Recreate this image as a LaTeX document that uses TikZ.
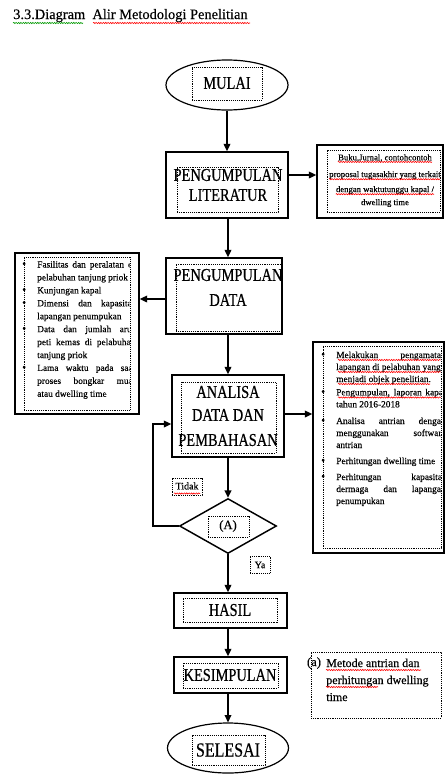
\documentclass[tikz,border=0pt]{standalone}
\usepackage{fontspec}
\setmainfont{Liberation Serif}
\newfontfamily\boxfont[FakeStretch=0.8,FakeBold=0.5]{Liberation Serif}
\newfontfamily\smfont[FakeBold=0.3]{Liberation Serif}
\usetikzlibrary{arrows.meta,shapes.geometric,decorations.pathmorphing,fit}
\newcommand\mybul{\makebox[11.25pt][l]{\raisebox{0.2pt}{\fontsize{8}{9}\selectfont•}}}
\newcommand\mynob{\hspace*{11.25pt}}
\begin{document}
\begin{tikzpicture}[x=0.75pt,y=-0.75pt,
 outer/.style={draw, line width=1.2pt, inner sep=0pt},
 dotbox/.style={draw, line width=0.7pt, dash pattern=on 0.7pt off 0.7pt, inner sep=0pt},
 arr/.style={line width=1.1pt, -{Triangle[length=5.5pt,width=5pt]}},
 big/.style={inner sep=0pt, font=\boxfont\fontsize{13.5}{16}\selectfont},
 wav/.style={decorate, decoration={snake, amplitude=0.45pt, segment length=1.8pt}, line width=0.45pt}]

\useasboundingbox (0,0) rectangle (445,775);

% title
\node[anchor=base west, inner sep=0pt, font=\smfont\fontsize{10.8}{12}\selectfont] (title) at (13,19) {3.3.Diagram\hspace{0.5em}Alir Metodologi Penelitian};
\draw[wav, green!60!black] (13,23) -- (83,23);
\draw[wav, red] (93,23) -- (250,23);

% MULAI
\node[ellipse, draw, line width=0.9pt, minimum width=91.5pt, minimum height=37.5pt, inner sep=0pt] (mulai) at (227,85) {};
\node[dotbox, fit={(192,67) (262,100)}] (mulaid) {};
\node[big] (mulait) at (227,83) {MULAI};

% literatur
\node[outer, fit={(166,152) (288,218)}] (lit) {};
\node[dotbox, fit={(177,167) (278,212)}] (litd) {};
\node[big] (litt1) at (228,175) {PENGUMPULAN};
\node[big] (litt2) at (228,195) {LITERATUR};

\node[outer, fit={(317,145) (443,218)}] (litnote) {};
\node[dotbox, fit={(327,150) (440,212)}] (litnoted) {};
\begin{scope}
\clip (318,146) rectangle (440,217);
\node[inner sep=0pt, font=\smfont\fontsize{6.5}{8}\selectfont] (ln1) at (385,158) {Buku,Jurnal, contohcontoh};
\node[inner sep=0pt, font=\smfont\fontsize{6.5}{8}\selectfont] (ln2) at (385,175) {proposal tugasakhir yang terkait};
\node[inner sep=0pt, font=\smfont\fontsize{6.5}{8}\selectfont] (ln3) at (385,190) {dengan waktutunggu kapal /};
\node[inner sep=0pt, font=\smfont\fontsize{6.5}{8}\selectfont] (ln4) at (385,203) {dwelling time};
\draw[wav, red] (ln1.south west) -- (ln1.south east);
\draw[wav, red] (ln2.south west) -- (ln2.south east);
\draw[wav, red] (ln3.south west) -- (ln3.south east);
\end{scope}

% data
\node[outer, fit={(166,258) (282,334)}] (data) {};
\node[dotbox, fit={(176,264) (281,331)}] (datad) {};
\node[big] (datat1) at (228,275) {PENGUMPULAN};
\node[big] (datat2) at (228,300) {DATA};

\node[outer, fit={(15,253) (139,414)}] (leftnote) {};
\node[dotbox, fit={(24,257) (130,410)}] (leftnoted) {};
\begin{scope}
\clip (16,254) rectangle (129.5,413);
\node[anchor=base west, inner sep=0pt, font=\smfont\fontsize{7}{9.7}\selectfont] (leftlist) at (22,267.5) {\begin{minipage}[t]{110pt}
\mybul\makebox[73.5pt][s]{Fasilitas dan peralatan di}\\
\mynob pelabuhan tanjung priok\\
\mybul Kunjungan kapal\\
\mybul\makebox[73.5pt][s]{Dimensi dan kapasitas}\\
\mynob lapangan penumpukan\\
\mybul\makebox[73.5pt][s]{Data dan jumlah arus}\\
\mynob\makebox[73.5pt][s]{peti kemas di pelabuhan}\\
\mynob tanjung priok\\
\mybul\makebox[73.5pt][s]{Lama waktu pada saat}\\
\mynob\makebox[73.5pt][s]{proses bongkar muat}\\
\mynob atau dwelling time
\end{minipage}};
\end{scope}

% analisa
\node[outer, fit={(172,375) (284,457)}] (anal) {};
\node[dotbox, fit={(181,382) (276,453)}] (anald) {};
\node[big] (analt1) at (228,392) {ANALISA};
\node[big] (analt2) at (228,415) {DATA DAN};
\node[big] (analt3) at (228,440) {PEMBAHASAN};

\node[outer, fit={(313,342) (444,553)}] (analnote) {};
\node[dotbox, fit={(323,346) (441,548)}] (analnoted) {};
\begin{scope}
\clip (314,343) rectangle (440.5,552);
\node[anchor=base west, inner sep=0pt, font=\smfont\fontsize{7}{9}\selectfont] (rightlist) at (321,358) {\begin{minipage}[t]{120pt}
\mybul\makebox[82pt][s]{Melakukan pengamatan}\\
\mynob lapangan di pelabuhan yang\\
\mynob menjadi objek penelitian.\\[1pt]
\mybul\makebox[82pt][s]{Pengumpulan, laporan kapal}\\
\mynob tahun 2016-2018\\[3.5pt]
\mybul\makebox[82pt][s]{Analisa antrian dengan}\\
\mynob\makebox[82pt][s]{menggunakan software}\\
\mynob antrian\\[3pt]
\mybul Perhitungan dwelling time\\[3pt]
\mybul\makebox[82pt][s]{Perhitungan kapasitas}\\
\mynob\makebox[82pt][s]{dermaga dan lapangan}\\
\mynob penumpukan
\end{minipage}};
\draw[wav, red] (338,360) -- (441,360);
\draw[wav, red] (338,372) -- (441,372);
\draw[wav, red] (338,384) -- (430,384);
\draw[wav, red] (338,397.5) -- (441,397.5);
\end{scope}

% decision
\node[diamond, draw, line width=1.1pt, minimum width=72.75pt, minimum height=41.25pt, inner sep=0pt] (dia) at (228,526) {};
\node[dotbox, fit={(208,516) (249,537)}] (diad) {};
\node[inner sep=0pt, font=\smfont\fontsize{9.5}{11}\selectfont] (diat) at (228,526) {(A)};

\node[dotbox, fit={(172,478) (202,495)}] (tidakd) {};
\node[inner sep=0pt, font=\smfont\fontsize{7.5}{9}\selectfont] (tidak) at (187,486) {Tidak};
\draw[wav, red] (174,493.5) -- (200,493.5);
\node[dotbox, fit={(250,556) (270,573)}] (yad) {};
\node[inner sep=0pt, font=\smfont\fontsize{7.5}{9}\selectfont] (ya) at (260,565) {Ya};

% hasil, kesimpulan, selesai
\node[outer, fit={(174,593) (287,628)}] (hasil) {};
\node[dotbox, fit={(183,598) (277,622)}] (hasild) {};
\node[big] (hasilt) at (230,610) {HASIL};

\node[outer, fit={(174,657) (287,693)}] (kes) {};
\node[dotbox, fit={(183,663) (278,688)}] (kesd) {};
\node[big] (kest) at (230,675) {KESIMPULAN};

\node[ellipse, draw, line width=0.9pt, minimum width=90.75pt, minimum height=37.5pt, inner sep=0pt] (selesai) at (228,748) {};
\node[dotbox, fit={(192,735) (265,765)}] (selesaid) {};
\node[inner sep=0pt, font=\boxfont\fontsize{15}{17}\selectfont] (selesait) at (228,750) {SELESAI};

% note
\node[dotbox, fit={(311,652) (441,718)}] (note) {};
\node[inner sep=0pt, font=\smfont\fontsize{9.5}{11}\selectfont] (notea) at (314,663) {(a)};
\node[anchor=base west, inner sep=0pt, font=\smfont\fontsize{9}{12.75}\selectfont] (notet) at (326,667) {\begin{minipage}[t]{95pt}Metode antrian dan\\perhitungan dwelling\\time\end{minipage}};
\draw[wav, red] (326,670) -- (421,670);
\draw[wav, red] (326,687) -- (378,687);

% connectors
\coordinate (col) at (228,0);
\draw[arr] (mulai.south) -- (mulai.south |- lit.north);
\draw[arr] (lit.south -| col) -- (data.north -| col);
\draw[arr] (data.south -| col) -- (anal.north -| col);
\draw[arr] (anal.south -| col) -- (dia.north);
\draw[arr] (dia.south) -- (hasil.north -| col);
\draw[arr] (hasil.south -| col) -- (kes.north -| col);
\draw[arr] (kes.south -| col) -- (selesai.north);
\coordinate (c1) at (0,175);
\draw[arr] (lit.east |- c1) -- (litnote.west |- c1);
\coordinate (c2) at (0,299);
\draw[arr] (data.west |- c2) -- (leftnote.east |- c2);
\coordinate (c3) at (0,414);
\draw[arr] (anal.east |- c3) -- (analnote.west |- c3);
\coordinate (lp) at (153,424);
\draw[arr] (dia.west) -| (lp) -- (anal.west |- lp);
\end{tikzpicture}
\end{document}
